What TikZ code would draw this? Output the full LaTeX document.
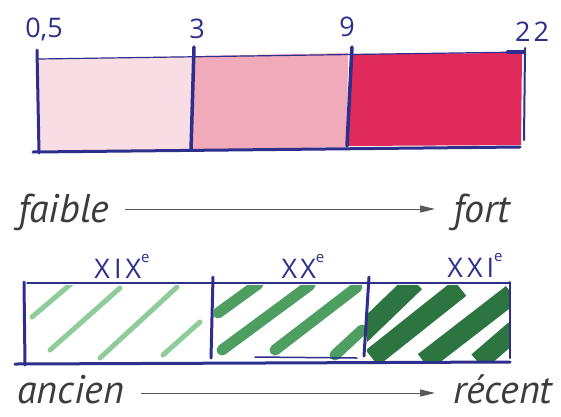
\documentclass[tikz,border=0pt]{standalone}
\usepackage{fontspec}
\setmainfont{PT Sans}
\newfontfamily\handfont{Open Sans}
\usetikzlibrary{arrows.meta}
\definecolor{ink}{HTML}{2E2E8C}
\definecolor{pinkA}{HTML}{F8DEE4}
\definecolor{pinkB}{HTML}{F0AABA}
\definecolor{pinkC}{HTML}{E12A5C}
\definecolor{greenA}{HTML}{90CB9B}
\definecolor{greenB}{HTML}{4E9E62}
\definecolor{greenC}{HTML}{2C7540}
\definecolor{txt}{HTML}{3C3C3C}
\tikzset{
  thinink/.style={ink, line width=1.2pt, line cap=round},
  thickink/.style={ink, line width=3pt, line cap=round},
  word/.style={font=\fontsize{40}{42}\selectfont\itshape, text=txt, inner sep=0pt, anchor=base west},
  hand/.style={font=\handfont\fontsize{27}{28}\selectfont, text=ink, inner sep=0pt},
  arr/.style={draw=txt!85, line width=1pt, -{Triangle[length=15pt,width=7pt]}},
  stripeA/.style={greenA, line width=5pt, line cap=round},
  stripeB/.style={greenB, line width=11pt, line cap=round},
  stripeC/.style={greenC, line width=20pt},
}
\begin{document}
\begin{tikzpicture}[x=1pt,y=-1pt]
\useasboundingbox (0,0) rectangle (561,416);
\fill[white] (0,0) rectangle (561,416);

% ---------- top bar ----------
\fill[pinkA] (38,59) -- (193,56) -- (193,150) -- (38,150) -- cycle;
\fill[pinkB] (193,56) -- (348,53) -- (347,147) -- (193,150) -- cycle;
\fill[pinkC] (350,54) -- (522,53) -- (521,145) -- (348,146) -- cycle;

\draw[thinink] (38,59) -- (525,52);
\draw[thickink] (37,50) -- (39,153);
\draw[thickink, line width=3.5pt] (194,47) -- (191,150);
\draw[thickink, line width=3.5pt] (352,47) -- (347,146);
\draw[thickink, line width=2pt] (525,48) -- (524,140);
\draw[thickink, line width=4pt] (508,52) -- (524,52);
\draw[thickink] (33,152) -- (520,147);

\node[hand] (l05) at (44,29) {0,5};
\node[hand] (l3)  at (197,29) {3};
\node[hand] (l9)  at (347,27) {9};
\node[hand] (l22) at (532,32) {2\kern3pt2};

% ---------- scale 1 ----------
\node[word] (faible) at (18,222) {faible};
\node[word] (fort)   at (453,222) {fort};
\draw[arr, shorten <=15pt, shorten >=18pt] ([yshift=13pt]faible.base east) -- ([yshift=13pt]fort.base west);

% ---------- bottom bar ----------
\begin{scope}
  \clip (27,285) rectangle (211,361);
  \draw[stripeA] (32,317) -- (72,283);
  \draw[stripeA] (50,350) -- (120,288);
  \draw[stripeA] (100,358) -- (177,287);
  \draw[stripeA] (163,355) -- (200,322);
\end{scope}
\begin{scope}
  \clip (214,285) rectangle (365,360);
  \draw[stripeB] (218,313) -- (258,284);
  \draw[stripeB] (222,350) -- (310,285);
  \draw[stripeB] (275,350) -- (357,287);
  \draw[stripeB] (335,355) -- (362,330);
\end{scope}
\begin{scope}
  \clip (367,285) rectangle (509,361);
  \draw[stripeC] (360,335) -- (415,282);
  \draw[stripeC] (372,358) -- (460,288);
  \draw[stripeC] (424,362) -- (512,294);
  \draw[stripeC] (478,362) -- (515,330);
\end{scope}

\draw[thinink] (27,283) -- (510,283);
\draw[thickink] (24,282) -- (25,365);
\draw[thickink] (213,277) -- (211,358);
\draw[thickink] (369,277) -- (364,356);
\draw[thickink, line width=2pt] (510,282) -- (510,358);
\draw[thickink] (15,364) -- (510,362);
\draw[thinink, line width=1.5pt] (255,357) -- (357,358);

\node[hand] (c19) at (122,266) {X\kern4pt I\kern4pt X\raisebox{1.1ex}{\fontsize{15}{16}\selectfont e}};
\node[hand] (c20) at (303,266) {X\kern3pt X\raisebox{1.1ex}{\fontsize{15}{16}\selectfont e}};
\node[hand] (c21) at (475,265) {X\kern4pt X\kern4pt I\raisebox{1.1ex}{\fontsize{15}{16}\selectfont e}};

% ---------- scale 2 ----------
\node[word] (ancien) at (17,403) {ancien};
\node[word] (recent) at (453,403) {récent};
\draw[arr, shorten <=17pt, shorten >=18pt] ([yshift=10pt]ancien.base east) -- ([yshift=10pt]recent.base west);
\end{tikzpicture}
\end{document}
